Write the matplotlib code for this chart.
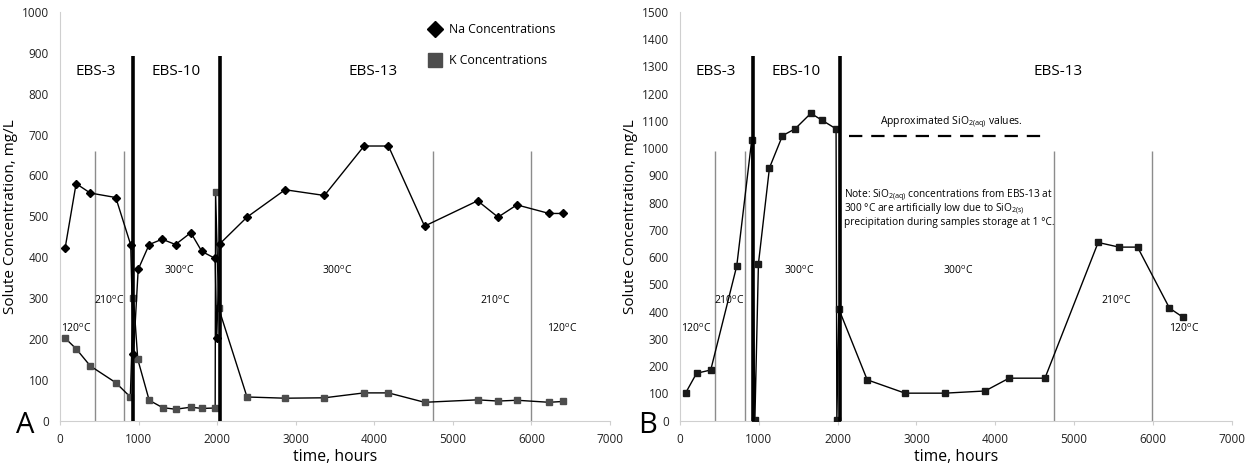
import matplotlib
matplotlib.use("Agg")
import matplotlib.pyplot as plt
from matplotlib.lines import Line2D

plt.rcParams['font.family'] = ['Open Sans', 'DejaVu Sans']
plt.rcParams['mathtext.fontset'] = 'custom'
plt.rcParams['mathtext.rm'] = 'Open Sans'
plt.rcParams['mathtext.it'] = 'Open Sans'

# Na and K concentrations (mg/L) vs elapsed time (hours)
na_hours = [65, 205, 385, 710, 900, 935, 995, 1135, 1300, 1470, 1665, 1805, 1975, 1995, 2030,
            2380, 2865, 3365, 3870, 4180, 4640, 5315, 5575, 5815, 6225, 6400]
na_conc = [422, 580, 557, 546, 430, 162, 370, 431, 444, 431, 460, 414, 397, 202, 432,
           498, 565, 551, 672, 672, 476, 538, 498, 528, 507, 507]

k_hours = [65, 205, 385, 710, 895, 935, 990, 1135, 1305, 1470, 1665, 1805, 1975, 1980, 2020,
           2380, 2865, 3365, 3870, 4180, 4640, 5315, 5575, 5815, 6225, 6400]
k_conc = [202, 176, 134, 93, 58, 300, 150, 50, 32, 28, 33, 30, 31, 560, 275,
          58, 55, 56, 68, 68, 45, 51, 48, 50, 45, 47]

# SiO2(aq) concentrations (mg/L)
si_hours = [70, 210, 390, 720, 910, 950, 995, 1135, 1300, 1460, 1660, 1805, 1980, 1990, 2015,
            2375, 2855, 3360, 3870, 4175, 4630, 5305, 5570, 5805, 6210, 6385]
si_conc = [101, 174, 186, 568, 1030, 3, 576, 928, 1046, 1071, 1128, 1102, 1071, 3, 410,
           150, 101, 101, 109, 156, 156, 654, 637, 637, 413, 379]
si_approx = 1044
si_approx_span = [2150, 4630]

# experiment boundaries and temperature steps
run_change_hours = [930, 2030]
temp_change_hours = [440, 820, 4745, 5990]
run_names = ['EBS-3', 'EBS-10', 'EBS-13']
temp_names = ['120$^{\\rm o}$C', '210$^{\\rm o}$C', '300$^{\\rm o}$C',
              '300$^{\\rm o}$C', '210$^{\\rm o}$C', '120$^{\\rm o}$C']
temp_label_hours = [212, 624, 1514, 3532, 5536, 6400]

fig = plt.figure(figsize=(12.5, 4.65), dpi=100)
axA = fig.add_axes([0.048, 0.0953, 0.44, 0.879])
axB = fig.add_axes([0.544, 0.0953, 0.4414, 0.879])


def style_axis(ax, ymax, ystep):
    ax.set_xlim(0, 7000)
    ax.set_ylim(0, ymax)
    ax.set_xticks(range(0, 7001, 1000))
    ax.set_yticks(range(0, ymax + 1, ystep))
    for s in ['top', 'right']:
        ax.spines[s].set_visible(False)
    for s in ['left', 'bottom']:
        ax.spines[s].set_color('#cfcfcf')
    ax.tick_params(axis='both', labelsize=8.5, colors='#cfcfcf', labelcolor='#222222')
    ax.tick_params(axis='y', length=0, pad=8)
    ax.tick_params(axis='x', length=3, pad=6)
    ax.set_xlabel('time, hours', fontsize=11.3, labelpad=2)
    ax.set_ylabel('Solute Concentration, mg/L', fontsize=11)
    ax.yaxis.set_label_coords(-0.076, 0.5)


def draw_boundaries(ax, thin_top, thick_top):
    ax.vlines(temp_change_hours, 0, thin_top, colors='#8c8c8c', linewidth=1.0, zorder=1)
    ax.vlines(run_change_hours, 0, thick_top, colors='black', linewidth=2.6, zorder=4)


# panel A
style_axis(axA, 1000, 100)
draw_boundaries(axA, 659, 892)
axA.plot(k_hours, k_conc, color='black', linewidth=1.0, marker='s', markersize=5,
         markerfacecolor='#4d4d4d', markeredgecolor='#4d4d4d', zorder=3)
axA.plot(na_hours, na_conc, color='black', linewidth=1.0, marker='D', markersize=3.6,
         markerfacecolor='black', markeredgecolor='black', zorder=3)
for name, x in zip(run_names, [454, 1472, 3988]):
    axA.text(x, 855, name, fontsize=11, ha='center', va='center')
for name, x, y in zip(temp_names, temp_label_hours, [225, 293, 366, 366, 293, 225]):
    axA.text(x, y, name, fontsize=7.5, ha='center', va='center')
handles = [Line2D([], [], linestyle='none', marker='D', markersize=8, color='black'),
           Line2D([], [], linestyle='none', marker='s', markersize=10, color='#4d4d4d')]
axA.legend(handles, ['Na Concentrations', 'K Concentrations'], loc='upper left',
           bbox_to_anchor=(0.645, 0.999), frameon=False, fontsize=8.8,
           handletextpad=0.4, labelspacing=1.45, handlelength=1.5)
fig.text(0.020, 0.086, 'A', fontsize=21, ha='center', va='center')

# panel B
style_axis(axB, 1500, 100)
draw_boundaries(axB, 989, 1338)
axB.plot(si_hours, si_conc, color='black', linewidth=1.0, marker='s', markersize=5,
         markerfacecolor='#1a1a1a', markeredgecolor='#1a1a1a', zorder=3)
axB.hlines(si_approx, si_approx_span[0], si_approx_span[1], colors='black',
           linewidth=1.6, linestyles=(0, (6, 4)))
axB.text(2540, 1095, 'Approximated SiO$_{2(aq)}$ values.', fontsize=7.5, ha='left', va='center')
axB.text(2075, 826, 'Note: SiO$_{2(aq)}$ concentrations from EBS-13 at', fontsize=7.3, va='center')
axB.text(2075, 777, '300 \u00b0C are artificially low due to SiO$_{2(s)}$', fontsize=7.3, va='center')
axB.text(2075, 728, 'precipitation during samples storage at 1 \u00b0C.', fontsize=7.3, va='center')
for name, x in zip(run_names, [457, 1468, 4792]):
    axB.text(x, 1283, name, fontsize=11, ha='center', va='center')
for name, x, y in zip(temp_names, temp_label_hours, [337, 440, 549, 549, 440, 337]):
    axB.text(x, y, name, fontsize=7.5, ha='center', va='center')
fig.text(0.518, 0.086, 'B', fontsize=21, ha='center', va='center')

fig.savefig('out.png', dpi=100)
